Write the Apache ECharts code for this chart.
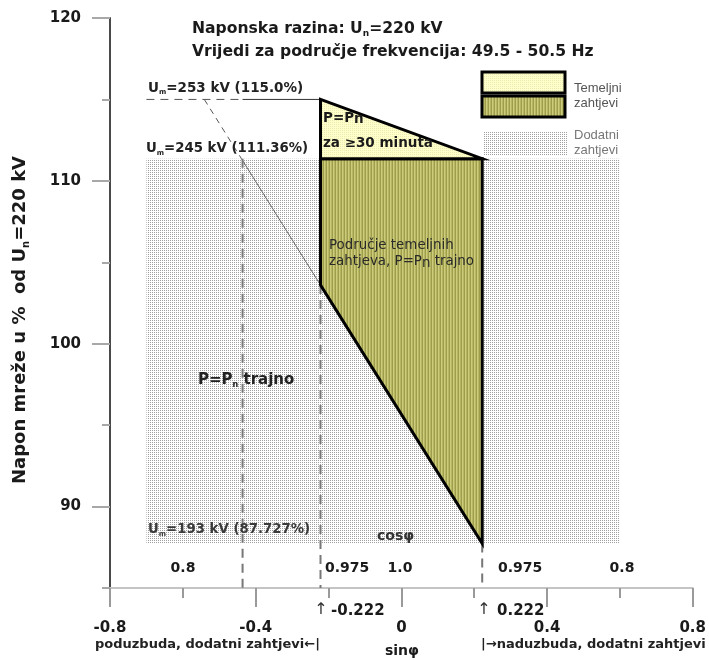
<!DOCTYPE html>
<html>
<head>
<meta charset="utf-8">
<title>Napon mreže - sin phi</title>
<style>
    html, body { margin: 0; padding: 0; background: #fff; }
    #main { width: 709px; height: 660px; }
</style>
</head>
<body>
<div id="main"></div>
<script src="https://cdn.jsdelivr.net/npm/echarts@6/dist/echarts.min.js"></script>
<script>
// osi: sin phi (x) i napon u % od Un (y)
var sinRange = [-0.8, 0.8];
var uRange = [85, 120];
var uLabelTicks = [90, 100, 110, 120];

// podrucja [sin phi, napon %]
var dodatniZahtjevi = [[-0.7, 87.727], [0.6, 87.727], [0.6, 111.36], [-0.7, 111.36]];
var temeljniGornji = [[-0.222, 115], [0.222, 111.36], [-0.222, 111.36]];
var temeljniTrajno = [[-0.222, 111.36], [0.222, 111.36], [0.222, 87.727], [-0.222, 103.6]];

// pomocne linije
var um253Crtkano = [[-0.7, 115], [-0.436, 115]];
var um253Puno = [[-0.436, 115], [-0.222, 115]];
var kosaCrtkana = [[-0.541, 115], [-0.439, 111.36]];
var kosaTanka = [[-0.439, 111.36], [-0.222, 103.6]];
var vertikala09 = [[-0.436, 111.36], [-0.436, 85]];
var vertikalaLijevo = [[-0.222, 103.6], [-0.222, 85]];
var vertikalaDesno = [[0.222, 87.727], [0.222, 85]];

// uzorci ispune
function uzorak(w, h, crtaj) {
    var c = document.createElement('canvas');
    c.width = w; c.height = h;
    crtaj(c.getContext('2d'));
    return { image: c, repeat: 'repeat' };
}
var tockice = uzorak(2, 2, function (g) {
    g.fillStyle = '#fff'; g.fillRect(0, 0, 2, 2);
    g.fillStyle = '#a0a0a0'; g.fillRect(0, 0, 1, 1);
});
var zuto = uzorak(2, 2, function (g) {
    g.fillStyle = '#ffffcc'; g.fillRect(0, 0, 2, 2);
    g.fillStyle = '#ececb0'; g.fillRect(0, 0, 1, 1);
});
var maslinasto = uzorak(3, 3, function (g) {
    g.fillStyle = '#cccc7c'; g.fillRect(0, 0, 1, 3);
    g.fillStyle = '#b6b663'; g.fillRect(1, 0, 1, 3);
    g.fillStyle = '#9d9d4b'; g.fillRect(2, 0, 1, 3);
});

var mapChart = echarts.init(document.getElementById('main'));

function poligon(tocke, fill, rub, z) {
    return {
        type: 'custom',
        z: z,
        silent: true,
        data: [0],
        renderItem: function (params, api) {
            return {
                type: 'polygon',
                shape: { points: tocke.map(function (p) { return api.coord(p); }) },
                style: { fill: fill, stroke: rub ? '#000' : null, lineWidth: rub ? 3 : 0, lineJoin: 'miter' }
            };
        }
    };
}
function linija(tocke, boja, sirina, tip, z) {
    return {
        type: 'line', z: z, silent: true, symbol: 'none', animation: false,
        lineStyle: { color: boja, width: sirina, type: tip },
        data: tocke
    };
}

var siroki = 'DejaVu Sans, Verdana, sans-serif';
var uski = 'Liberation Sans, Arial, sans-serif';
function tekst(x, y, t, size, opts) {
    opts = opts || {};
    var boja = opts.color || '#1a1a1a';
    var tez = opts.weight || 'bold';
    var obitelj = opts.family || siroki;
    return {
        type: 'text', x: x, y: y, rotation: opts.rot || 0, z: 100,
        style: {
            text: t,
            fontFamily: obitelj,
            fontSize: size,
            fontWeight: tez,
            fill: boja,
            align: opts.align || 'left',
            verticalAlign: 'middle',
            lineHeight: Math.round(size * 1.2),
            rich: {
                s: { fontFamily: obitelj, fontSize: Math.round(size * 0.55), fontWeight: tez, fill: boja,
                     lineHeight: Math.round(size * 0.3), verticalAlign: 'bottom' },
                n: { fontFamily: obitelj, fontSize: size, fontWeight: tez, fill: boja,
                     lineHeight: Math.round(size * 0.2), verticalAlign: 'bottom' }
            }
        }
    };
}

var option = {
    animation: false,
    grid: { left: 110, right: 16, top: 18, bottom: 72 },
    xAxis: {
        type: 'value',
        min: sinRange[0], max: sinRange[1], interval: 0.4,
        axisLine: { show: true, onZero: false, lineStyle: { color: '#c4c4c4', width: 2 } },
        axisTick: { show: true, length: 19, lineStyle: { color: '#9a9a9a', width: 2 } },
        minorTick: { show: true, splitNumber: 2, length: 10, lineStyle: { color: '#9a9a9a', width: 2 } },
        splitLine: { show: false },
        axisLabel: {
            margin: 33, color: '#1a1a1a', fontFamily: siroki, fontWeight: 'bold', fontSize: 15,
            formatter: function (v) { return v === 0 ? '0' : v.toFixed(1); }
        }
    },
    yAxis: [{
        type: 'value',
        min: uRange[0], max: uRange[1], interval: 5,
        axisLine: { show: true, onZero: false, lineStyle: { color: '#4a4a4a', width: 2 } },
        axisTick: { show: true, length: 8, lineStyle: { color: '#a8a8a8', width: 2 } },
        axisLabel: { show: false },
        splitLine: { show: false }
    }, {
        type: 'value', position: 'left',
        min: uRange[0], max: uRange[1],
        axisLine: { show: false, onZero: false },
        axisTick: { show: true, length: 18, customValues: uLabelTicks, lineStyle: { color: '#a8a8a8', width: 2 } },
        axisLabel: { margin: 29, customValues: uLabelTicks, color: '#1a1a1a', fontFamily: siroki, fontWeight: 'bold', fontSize: 15 },
        splitLine: { show: false }
    }],
    series: [
        poligon(dodatniZahtjevi, tockice, false, 1),
        linija(um253Crtkano, '#555', 1, [8, 6], 3),
        linija(um253Puno, '#333', 1, 'solid', 3),
        linija(kosaCrtkana, '#555', 1, [6, 5], 3),
        linija(kosaTanka, '#666', 1, 'solid', 3),
        linija(vertikala09, '#777', 2, [9, 6], 3),
        linija(vertikalaLijevo, '#777', 2, [9, 6], 3),
        linija(vertikalaDesno, '#777', 2, [9, 6], 3),
        poligon(temeljniTrajno, maslinasto, true, 5),
        poligon(temeljniGornji, zuto, true, 5)
    ],
    graphic: [
        tekst(192, 29, 'Naponska razina: U{s|n}=220 kV', 15.6),
        tekst(192, 52, 'Vrijedi za područje frekvencija: 49.5 - 50.5 Hz', 15.6),
        tekst(148, 88, 'U{s|m}=253 kV (115.0%)', 13.5, { color: '#222' }),
        tekst(146, 149, 'U{s|m}=245 kV (111.36%)', 13.3, { color: '#222' }),
        tekst(323, 118, 'P=P{n|n}', 13.5),
        tekst(323, 143, 'za ≥30 minuta', 13.5),
        tekst(329, 246, 'Područje temeljnih', 13.4, { color: '#2a2a2a', weight: 'normal' }),
        tekst(329, 262, 'zahtjeva, P=P{n|n} trajno', 13.4, { color: '#2a2a2a', weight: 'normal' }),
        tekst(198, 380, 'P=P{s|n} trajno', 15, { color: '#222' }),
        tekst(148, 530, 'U{s|m}=193 kV (87.727%)', 13.3, { color: '#3a3a3a' }),
        tekst(377, 536, 'cosφ', 14, { color: '#333' }),
        tekst(183, 568, '0.8', 14, { align: 'center' }),
        tekst(325, 568, '0.975', 14),
        tekst(400, 568, '1.0', 14, { align: 'center' }),
        tekst(498, 568, '0.975', 14),
        tekst(622, 568, '0.8', 14, { align: 'center' }),
        tekst(321, 610, '↑', 16, { color: '#333', weight: 'normal', align: 'center' }),
        tekst(331, 611, '-0.222', 15),
        tekst(484, 610, '↑', 16, { color: '#333', weight: 'normal', align: 'center' }),
        tekst(497, 611, '0.222', 15),
        tekst(95, 645, 'poduzbuda, dodatni zahtjevi←|', 13, { color: '#222' }),
        tekst(402, 651, 'sinφ', 14, { align: 'center' }),
        tekst(481, 645, '|→naduzbuda, dodatni zahtjevi', 13, { color: '#222' }),
        tekst(20, 320, 'Napon mreže u %  od U{s|n}=220 kV', 18, { align: 'center', rot: Math.PI / 2 }),
        // legenda
        { type: 'rect', z: 100, shape: { x: 482, y: 72, width: 83, height: 21 }, style: { fill: zuto, stroke: '#000', lineWidth: 3 } },
        { type: 'rect', z: 100, shape: { x: 482, y: 96, width: 83, height: 21 }, style: { fill: maslinasto, stroke: '#000', lineWidth: 3 } },
        { type: 'rect', z: 100, shape: { x: 483, y: 132, width: 84, height: 23 }, style: { fill: tockice } },
        tekst(574, 88, 'Temeljni', 13, { color: '#555', weight: 'normal', family: uski }),
        tekst(574, 103, 'zahtjevi', 13, { color: '#555', weight: 'normal', family: uski }),
        tekst(574, 135, 'Dodatni', 13, { color: '#777', weight: 'normal', family: uski }),
        tekst(574, 150, 'zahtjevi', 13, { color: '#777', weight: 'normal', family: uski })
    ]
};
mapChart.setOption(option);
</script>
</body>
</html>
